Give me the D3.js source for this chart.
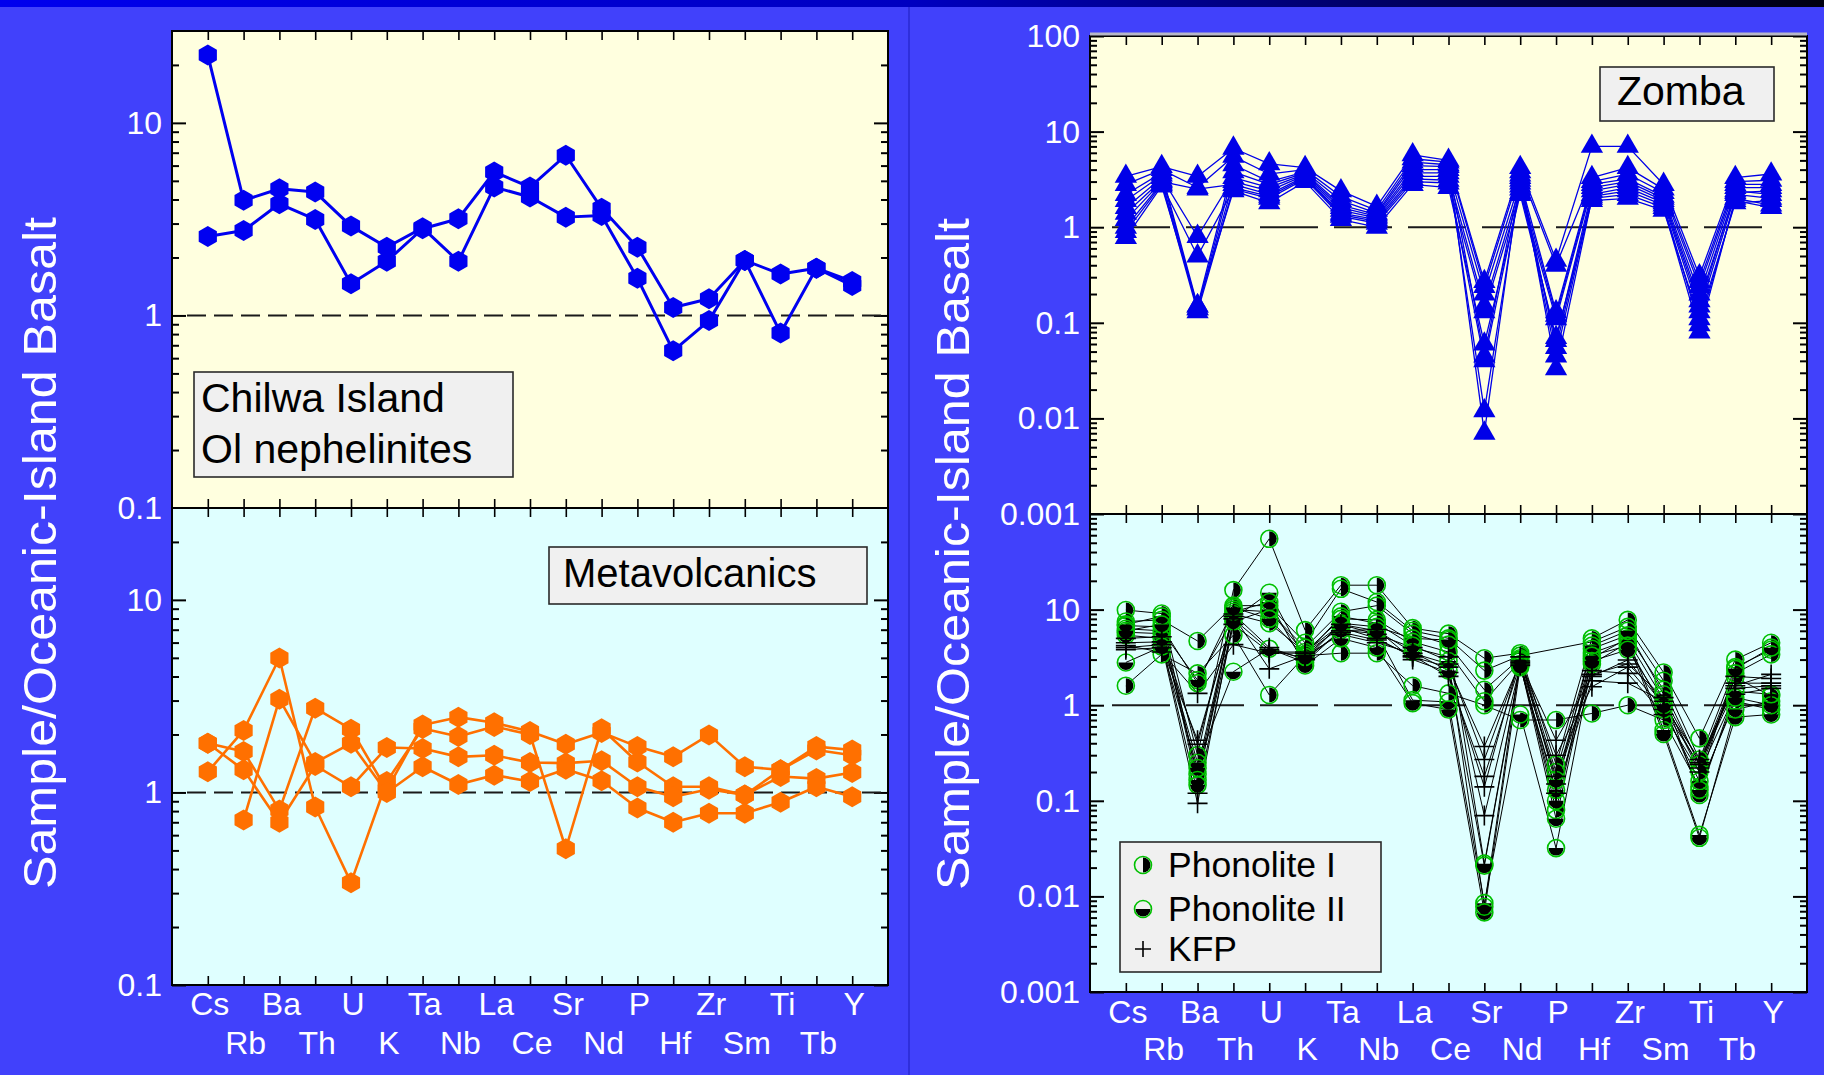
<!DOCTYPE html>
<html>
<head>
<meta charset="utf-8">
<script src="https://cdn.jsdelivr.net/npm/d3@7"></script>
<style>
  html, body { margin: 0; padding: 0; background: #4141fb; }
  svg { display: block; }
</style>
</head>
<body>
<svg id="chart" width="1824" height="1075"></svg>
<script>
// Trace elements, in spidergram order
const elements = ["Cs","Rb","Ba","Th","U","K","Ta","Nb","La","Ce","Sr","Nd","P","Hf","Zr","Sm","Ti","Tb","Y"];

// Chilwa Island olivine nephelinites (sample / OIB)
const chilwa = [
  [22.5, 3.96, 4.55, 4.37, 2.91, 2.26, 2.85, 1.91, 4.64, 4.12, 3.24, 3.30, 1.56, 0.655, 0.94, 1.93, 0.81, 1.76, 1.43],
  [2.57, 2.76, 3.80, 3.15, 1.46, 1.91, 2.82, 3.18, 5.56, 4.64, 6.79, 3.60, 2.26, 1.10, 1.22, 1.93, 1.64, 1.76, 1.50]
];

// Metavolcanics
const metavolcanics = [
  [1.80, 1.63, 0.81, 2.74, 2.13, 1.03, 2.24, 2.46, 2.30, 2.07, 1.78, 2.05, 1.73, 1.53, 1.99, 1.36, 1.31, 1.73, 1.66],
  [1.28, 2.10, 4.99, 0.84, 0.34, 1.14, 2.15, 1.95, 2.20, 2.00, 0.51, 2.14, 1.44, 1.07, 1.07, 0.97, 1.21, 1.18, 1.27],
  [1.80, 1.31, 0.70, 1.38, 1.07, 1.71, 1.69, 1.53, 1.56, 1.43, 1.42, 1.46, 1.07, 0.95, 1.04, 0.97, 1.31, 1.66, 1.56],
  [null, 0.72, 3.05, 1.43, 1.80, 1.00, 1.36, 1.10, 1.23, 1.14, 1.32, 1.15, 0.83, 0.70, 0.78, 0.78, 0.89, 1.07, 0.95]
];

// Zomba
const zomba = [
  [3.4, 4.3, 3.4, 6.7, 4.6, 4.2, 2.4, 1.65, 5.7, 5.0, 0.27, 4.2, 0.45, 7.0, 7.0, 2.8, 0.31, 3.3, 3.6],
  [2.8, 4.0, 2.6, 5.5, 3.6, 4.0, 2.1, 1.5, 5.2, 4.8, 0.24, 3.8, 0.40, 3.3, 4.2, 2.5, 0.27, 3.0, 3.1],
  [2.2, 3.7, 0.15, 4.5, 3.0, 3.8, 1.9, 1.4, 4.8, 4.5, 0.007, 3.5, 0.033, 2.0, 2.2, 1.6, 0.08, 2.0, 1.7],
  [1.9, 3.5, 0.14, 3.8, 2.8, 3.7, 1.7, 1.35, 4.4, 4.3, 0.045, 3.3, 0.055, 2.2, 2.6, 1.8, 0.13, 2.2, 2.0],
  [1.6, 3.3, 0.8, 3.3, 2.6, 3.6, 1.6, 1.3, 4.0, 4.0, 0.20, 3.1, 0.13, 3.0, 3.6, 2.3, 0.24, 2.8, 2.8],
  [1.4, 3.1, 0.14, 3.0, 2.4, 3.5, 1.5, 1.25, 3.7, 3.7, 0.012, 2.9, 0.045, 2.1, 2.4, 1.7, 0.095, 1.9, 1.6],
  [1.2, 3.0, 2.5, 2.8, 2.2, 3.4, 1.4, 1.2, 3.4, 3.4, 0.15, 2.7, 0.12, 2.8, 3.2, 2.1, 0.2, 2.6, 2.6],
  [1.0, 2.9, 0.13, 2.6, 2.1, 3.3, 1.35, 1.15, 3.2, 3.1, 0.04, 2.5, 0.065, 2.4, 2.8, 1.9, 0.15, 2.4, 2.2],
  [0.9, 2.8, 0.5, 2.5, 2.0, 3.2, 1.3, 1.1, 3.0, 2.9, 0.13, 2.3, 0.11, 2.6, 3.0, 2.0, 0.17, 2.3, 2.4],
  [0.78, 2.7, 0.15, 2.4, 1.8, 3.0, 1.2, 1.0, 2.8, 2.6, 0.06, 2.2, 0.07, 1.9, 2.0, 1.5, 0.11, 1.8, 1.9]
];

// Phonolite I
const phonolite1 = [
  [9.9, 9.1, 0.30, 16, 55, 6.1, 18, 18, 6.4, 5.6, 3.1, 3.5, 0.24, 5.0, 7.8, 2.2, 0.45, 3.0, 4.5],
  [7.5, 7.8, 4.7, 11, 11, 4.5, 16.5, 12, 6.0, 5.0, 2.3, 3.3, null, 4.6, 6.6, 1.8, 0.27, 2.5, 3.8],
  [1.6, 3.4, 2.15, 5.4, 1.28, 3.3, 3.5, 3.5, 1.6, 1.33, 1.0, 0.7, 0.70, 0.82, 1.0, 0.7, 0.14, 1.1, 0.9],
  [6.8, 6.6, 1.7, 10, 9.5, 4.0, 9.5, 11, 5.6, 4.3, 1.45, 3.1, 0.2, 3.9, 5.4, 1.45, 0.24, 2.15, 3.4],
  [5.8, 5.6, 0.19, 9, 7.2, 3.6, 8, 7.8, 4.6, 3.6, 1.1, 2.9, 0.08, 3.5, 4.8, 1.15, 0.2, 1.95, 1.25]
];

// Phonolite II
const phonolite2 = [
  [6.3, 6.0, 1.83, 8, 15, 3.0, 7.2, 6.6, 5.0, 4.8, 0.022, 2.7, 0.065, 3.1, 5.0, 0.55, 0.044, 0.75, 0.8],
  [5.4, 5.0, 0.25, 2.24, 3.9, 2.8, 6.1, 5.6, 1.13, 1.08, 0.0085, 0.8, 0.032, 2.7, 4.5, 0.5, 0.041, 0.9, 1.1],
  [2.8, 4.1, 0.22, 9.5, 12, 2.6, 5.0, 4.0, 1.05, 0.9, 0.0068, 2.5, 0.13, 4.2, 6.0, 1.3, 0.115, 1.4, 1.3],
  [7.0, 8.5, 0.165, 7.5, 10, 3.4, 8.5, 7.2, 4.2, 2.9, 0.0078, 3.0, 0.165, 3.3, 4.2, 0.9, 0.16, 2.4, 4.0],
  [6.0, 7.0, 0.146, 10.5, 8, 3.2, 7, 6.0, 3.6, 2.3, 0.021, 2.6, 0.1, 2.9, 3.8, 1.0, 0.13, 1.2, 1.0]
];

// KFP
const kfp = [
  [4.2, 3.6, 1.33, 4.3, 3.5, 3.5, 6.5, 5.0, 3.2, 2.5, 0.37, 2.8, 0.43, 2.0, 2.97, 1.0, 0.27, 1.6, 2.1],
  [3.8, 4.0, 0.43, 8.5, 2.4, 3.3, 5.5, 4.5, 3.5, 2.7, 0.27, 2.9, 0.3, 1.56, 2.5, 0.9, 0.24, 1.5, 1.6],
  [5.0, 5.2, 0.39, 9, 4.0, 3.0, 6.0, 6.2, 3.0, 2.2, 0.14, 3.2, 0.15, 2.3, 2.15, 0.8, 0.2, 1.3, 1.5],
  [4.5, 4.6, 0.12, 7, 3.6, 3.6, 7.0, 5.5, 4.0, 3.2, 0.07, 2.6, 0.12, 1.8, 1.7, 1.1, 0.22, 2.0, 1.9],
  [4.0, 4.3, 0.094, 8, 3.8, 3.1, 5.8, 4.8, 3.3, 2.0, 0.18, 2.7, 0.18, 2.1, 2.7, 1.2, 0.25, 1.7, 1.7]
];

// Y-axis tick labels for each panel
const leftTopLabels = [10, 1, 0.1];
const leftBottomLabels = [10, 1, 0.1];
const rightTopLabels = [100, 10, 1, 0.1, 0.01, 0.001];
const rightBottomLabels = [10, 1, 0.1, 0.01, 0.001];

const FONT = "'Liberation Sans', Arial, Helvetica, sans-serif";
const svg = d3.select("#chart");
const W = 1824, H = 1075;

// ---- Slide background ----
svg.append("rect").attr("width", W).attr("height", H).attr("fill", "#4141fb");
const defs = svg.append("defs");
const band = defs.append("linearGradient").attr("id", "band");
band.append("stop").attr("offset", "0%").attr("stop-color", "#0000ee");
band.append("stop").attr("offset", "50%").attr("stop-color", "#0000c0");
band.append("stop").attr("offset", "100%").attr("stop-color", "#000010");
svg.append("rect").attr("width", W).attr("height", 7).attr("fill", "url(#band)");
svg.append("line").attr("x1", 909).attr("x2", 909).attr("y1", 7).attr("y2", H)
  .attr("stroke", "#2a2ad2").attr("stroke-width", 1.5);

// ---- One log-scale spidergram panel ----
function logTicks(domain) {
  const [lo, hi] = domain;
  const major = [], minor = [];
  for (let p = Math.floor(Math.log10(lo)); p <= Math.ceil(Math.log10(hi)); p++) {
    const base = Math.pow(10, p);
    if (base >= lo * 0.999 && base <= hi * 1.001) major.push(base);
    for (let k = 2; k <= 9; k++) {
      const v = +(k * base).toPrecision(3);
      if (v > lo * 1.001 && v < hi * 0.999) minor.push(v);
    }
  }
  return { major, minor };
}

function makePanel(o) {
  const x = d3.scalePoint().domain(elements).range([o.x0, o.x1]).padding(1);
  const y = d3.scaleLog().domain(o.domain).range([o.y1, o.y0]);
  const g = svg.append("g");
  g.append("rect").attr("x", o.x0).attr("y", o.y0)
    .attr("width", o.x1 - o.x0).attr("height", o.y1 - o.y0).attr("fill", o.bg);

  const { major, minor } = logTicks(o.domain);
  const tickStyle = (sel, w) => {
    sel.select(".domain").remove();
    sel.selectAll("line").attr("stroke", "#000").attr("stroke-width", w);
  };
  // y ticks, drawn inward on both sides
  g.append("g").attr("transform", `translate(${o.x0},0)`)
    .call(d3.axisLeft(y).tickValues(minor).tickSize(-7).tickFormat(""))
    .call(s => tickStyle(s, 2));
  g.append("g").attr("transform", `translate(${o.x0},0)`)
    .call(d3.axisLeft(y).tickValues(major).tickSize(-14).tickFormat(""))
    .call(s => tickStyle(s, 2));
  g.append("g").attr("transform", `translate(${o.x1},0)`)
    .call(d3.axisRight(y).tickValues(minor).tickSize(-7).tickFormat(""))
    .call(s => tickStyle(s, 2));
  g.append("g").attr("transform", `translate(${o.x1},0)`)
    .call(d3.axisRight(y).tickValues(major).tickSize(-14).tickFormat(""))
    .call(s => tickStyle(s, 2));
  // category ticks on top and bottom edges
  g.append("g").attr("transform", `translate(0,${o.y0})`)
    .call(d3.axisTop(x).tickSize(-9).tickFormat(""))
    .call(s => tickStyle(s, 1.6));
  g.append("g").attr("transform", `translate(0,${o.y1})`)
    .call(d3.axisBottom(x).tickSize(-9).tickFormat(""))
    .call(s => tickStyle(s, 1.6));

  // y tick labels
  g.selectAll("text.ylab").data(o.labels).join("text")
    .attr("class", "ylab")
    .attr("x", o.x0 - 10).attr("y", d => y(d))
    .attr("text-anchor", "end").attr("dominant-baseline", "central")
    .attr("fill", "#fff").attr("font-family", FONT).attr("font-size", 32)
    .text(d => String(d));

  // reference line at 1
  g.append("line")
    .attr("x1", o.dashX0).attr("x2", o.dashX1)
    .attr("y1", y(1)).attr("y2", y(1))
    .attr("stroke", "#1a1a1a").attr("stroke-width", 2)
    .attr("stroke-dasharray", o.dash);

  const marks = g.append("g");
  const frame = () => {
    g.append("rect").attr("x", o.x0).attr("y", o.y0)
      .attr("width", o.x1 - o.x0).attr("height", o.y1 - o.y0)
      .attr("fill", "none").attr("stroke", "#000").attr("stroke-width", 2);
  };
  return { x, y, g, marks, frame, o };
}

function seriesPoints(row) {
  return row.map((v, i) => ({ el: elements[i], v })).filter(d => d.v != null);
}

function drawLines(p, rows, color, width) {
  const line = d3.line().x(d => p.x(d.el)).y(d => p.y(d.v));
  p.marks.append("g").selectAll("path").data(rows).join("path")
    .attr("d", r => line(seriesPoints(r)))
    .attr("fill", "none").attr("stroke", color).attr("stroke-width", width)
    .attr("stroke-linejoin", "round");
}

function drawMarkers(p, rows, drawFn) {
  const gm = p.marks.append("g");
  rows.forEach(r => {
    seriesPoints(r).forEach(d => {
      const m = gm.append("g").attr("transform", `translate(${p.x(d.el)},${p.y(d.v)})`);
      drawFn(m);
    });
  });
}

// marker shapes
const hexPath = (() => {
  const r = 10.5;
  const pts = d3.range(6).map(k => {
    const a = (-90 + k * 60) * Math.PI / 180;
    return [r * Math.cos(a), r * Math.sin(a)];
  });
  return "M" + pts.map(p => p.join(",")).join("L") + "Z";
})();
const hexagon = color => m => m.append("path").attr("d", hexPath).attr("fill", color);
const triangle = m => m.append("path")
  .attr("d", d3.symbol(d3.symbolTriangle, 215)()).attr("fill", "#0000e8");
const R = 8.5;
const halfRight = m => {
  m.append("path").attr("d", `M0,${-R + 1}A${R - 1},${R - 1} 0 0 1 0,${R - 1}Z`).attr("fill", "#000");
  m.append("circle").attr("r", R).attr("fill", "none").attr("stroke", "#00c000").attr("stroke-width", 1.6);
};
const halfBottom = m => {
  m.append("path").attr("d", `M${-R + 1},0A${R - 1},${R - 1} 0 0 0 ${R - 1},0Z`).attr("fill", "#000");
  m.append("circle").attr("r", R).attr("fill", "none").attr("stroke", "#00c000").attr("stroke-width", 1.6);
};
const plus = m => m.append("path").attr("d", "M-10,0H10M0,-10V10")
  .attr("stroke", "#000").attr("stroke-width", 1.6).attr("fill", "none");

function categoryLabels(p, yRow1, yRow2) {
  p.g.selectAll("text.xlab").data(elements).join("text")
    .attr("class", "xlab")
    .attr("x", d => p.x(d) + 2)
    .attr("y", (d, i) => i % 2 === 0 ? yRow1 : yRow2)
    .attr("text-anchor", "middle").attr("dominant-baseline", "central")
    .attr("fill", "#fff").attr("font-family", FONT).attr("font-size", 32)
    .text(d => d);
}

function legendBox(x, y, w, h) {
  svg.append("rect").attr("x", x).attr("y", y).attr("width", w).attr("height", h)
    .attr("fill", "#f0f0f0").attr("stroke", "#2a2a2a").attr("stroke-width", 1.6);
}
function legendText(x, y, txt, size) {
  svg.append("text").attr("x", x).attr("y", y)
    .attr("font-family", FONT).attr("font-size", size).attr("fill", "#000").text(txt);
}

// ---- Left: Chilwa Island / Metavolcanics ----
const LT = makePanel({ x0: 172, x1: 888, y0: 31, y1: 508, domain: [0.1, 30], bg: "#ffffdf",
  labels: leftTopLabels, dash: "19,8", dashX0: 187, dashX1: 888 });
drawLines(LT, chilwa, "#0000f0", 3);
drawMarkers(LT, chilwa, hexagon("#0000f0"));
LT.frame();

const LB = makePanel({ x0: 172, x1: 888, y0: 508, y1: 985, domain: [0.1, 30], bg: "#dfffff",
  labels: leftBottomLabels, dash: "19,8", dashX0: 187, dashX1: 888 });
drawLines(LB, metavolcanics, "#ff7000", 2.6);
drawMarkers(LB, metavolcanics, hexagon("#ff7000"));
LB.frame();
categoryLabels(LB, 1004, 1043);

// ---- Right: Zomba ----
const RT = makePanel({ x0: 1090, x1: 1807, y0: 36, y1: 514, domain: [0.001, 100], bg: "#ffffdf",
  labels: rightTopLabels, dash: "58,16", dashX0: 1112, dashX1: 1772 });
drawLines(RT, zomba, "#0000e8", 1.3);
drawMarkers(RT, zomba, triangle);
RT.frame();
svg.append("line").attr("x1", 1090).attr("x2", 1807).attr("y1", 34).attr("y2", 34)
  .attr("stroke", "#b8b8c8").attr("stroke-width", 3);

const RB = makePanel({ x0: 1090, x1: 1807, y0: 514, y1: 992, domain: [0.001, 100], bg: "#dfffff",
  labels: rightBottomLabels, dash: "58,16", dashX0: 1112, dashX1: 1772 });
drawLines(RB, phonolite1.concat(phonolite2, kfp), "#000", 1);
drawMarkers(RB, phonolite1, halfRight);
drawMarkers(RB, phonolite2, halfBottom);
drawMarkers(RB, kfp, plus);
RB.frame();
categoryLabels(RB, 1012, 1049);

// ---- Axis titles ----
[[39, 553], [952, 554]].forEach(([cx, cy]) => {
  svg.append("text")
    .attr("transform", `translate(${cx},${cy}) rotate(-90)`)
    .attr("text-anchor", "middle").attr("dominant-baseline", "central")
    .attr("fill", "#fff").attr("font-family", FONT).attr("font-size", 47)
    .attr("textLength", 672).attr("lengthAdjust", "spacingAndGlyphs")
    .text("Sample/Oceanic-Island Basalt");
});

// ---- Legends ----
legendBox(194, 372, 319, 105);
legendText(201, 412, "Chilwa Island", 41);
legendText(201, 463, "Ol nephelinites", 41);

legendBox(549, 547, 318, 57);
legendText(563, 587, "Metavolcanics", 40);

legendBox(1600, 67, 174, 54);
legendText(1617, 105, "Zomba", 41);

legendBox(1120, 842, 261, 130);
const legendItems = [
  { y: 865, label: "Phonolite I", draw: halfRight },
  { y: 909, label: "Phonolite II", draw: halfBottom },
  { y: 949, label: "KFP", draw: m => m.append("path").attr("d", "M-8,0H8M0,-8V8")
      .attr("stroke", "#000").attr("stroke-width", 1.6) }
];
legendItems.forEach(it => {
  it.draw(svg.append("g").attr("transform", `translate(1143,${it.y})`));
  svg.append("text").attr("x", 1168).attr("y", it.y)
    .attr("dominant-baseline", "central")
    .attr("font-family", FONT).attr("font-size", 35.5).attr("fill", "#000")
    .text(it.label);
});
</script>
</body>
</html>
